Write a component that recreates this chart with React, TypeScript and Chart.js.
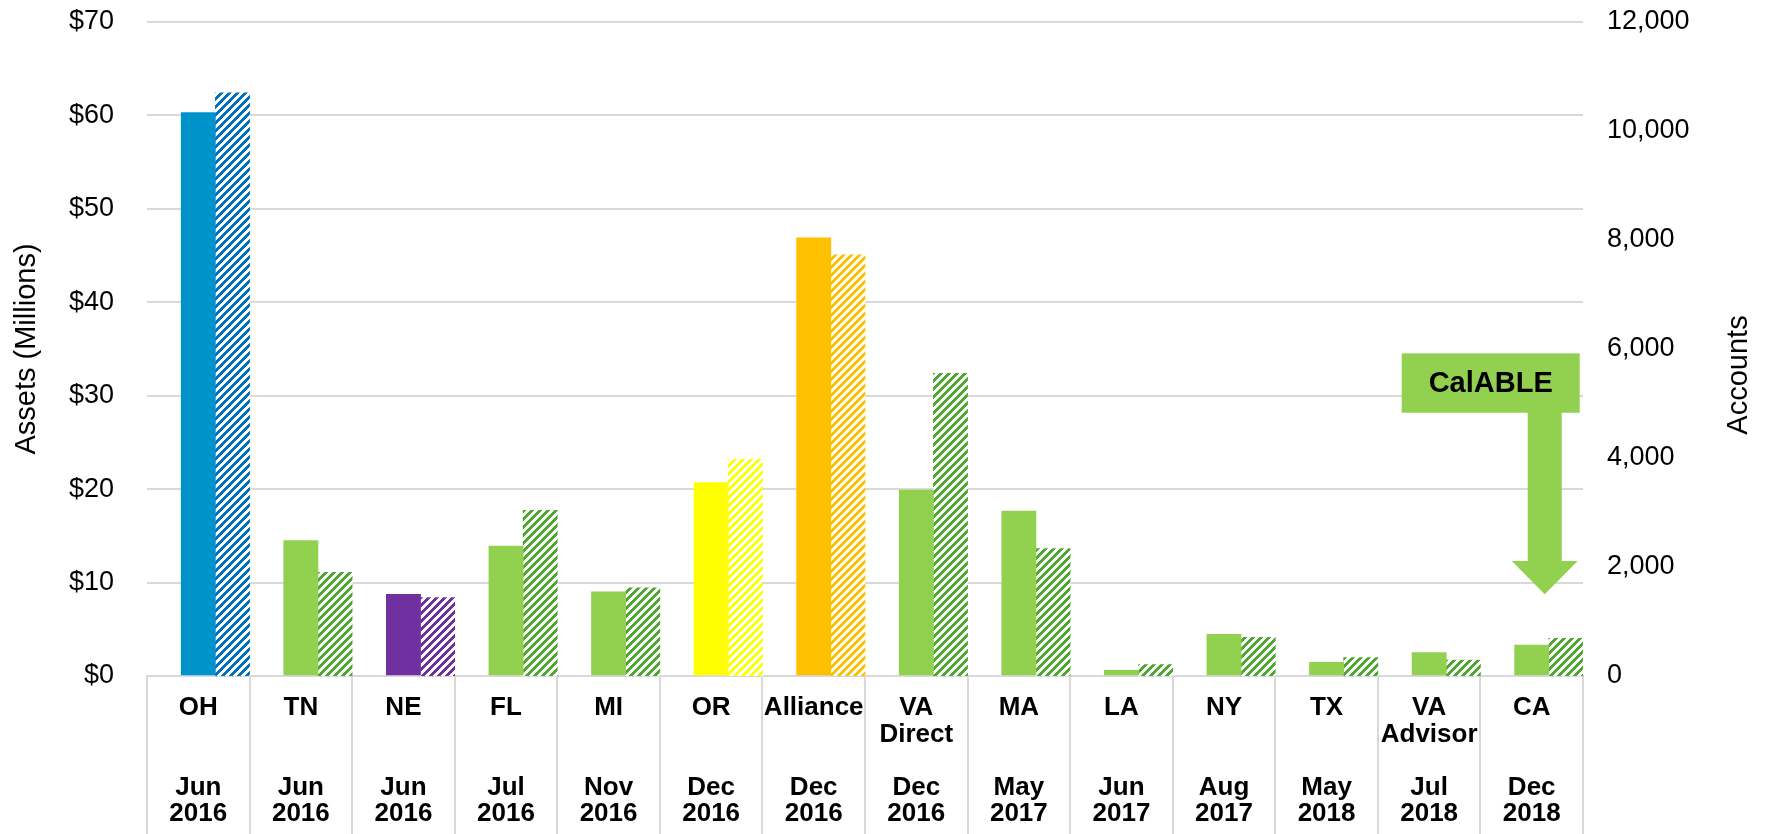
import React, { useEffect, useRef } from 'react';
import { Chart, registerables } from 'chart.js';

Chart.register(...registerables);

// ---- data ----
const states: string[][] = [
  ['OH'], ['TN'], ['NE'], ['FL'], ['MI'], ['OR'], ['Alliance'], ['VA', 'Direct'],
  ['MA'], ['LA'], ['NY'], ['TX'], ['VA', 'Advisor'], ['CA'],
];
const launchMonths = ['Jun', 'Jun', 'Jun', 'Jul', 'Nov', 'Dec', 'Dec', 'Dec', 'May', 'Jun', 'Aug', 'May', 'Jul', 'Dec'];
const launchYears = ['2016', '2016', '2016', '2016', '2016', '2016', '2016', '2016', '2017', '2017', '2017', '2018', '2018', '2018'];
const assetsMillions = [60.3, 14.5, 8.75, 13.9, 9.0, 20.7, 46.9, 19.9, 17.65, 0.6, 4.45, 1.45, 2.5, 3.3];
const accountCounts = [10700, 1900, 1440, 3040, 1620, 3975, 7730, 5555, 2340, 210, 710, 340, 290, 690];

const assetAxisMax = 70;
const assetAxisStep = 10;
const accountAxisMax = 12000;
const accountAxisStep = 2000;

const leftTitle = 'Assets (Millions)';
const rightTitle = 'Accounts';
const calloutText = 'CalABLE';
const calloutIndex = 13;
// callout geometry expressed in account-axis values
const calloutBoxTop = 5920;
const calloutBoxBottom = 4830;
const calloutHeadTop = 2110;
const calloutTip = 1500;

// ---- styles ----
const FONT = '"Liberation Sans", Arial, Helvetica, sans-serif';
const solidColors = ['#0093C9', '#92D050', '#7030A0', '#92D050', '#92D050', '#FFFF00', '#FFC000', '#92D050', '#92D050', '#92D050', '#92D050', '#92D050', '#92D050', '#92D050'];
const hatchColors = ['#0070C0', '#4EA72E', '#7030A0', '#4EA72E', '#4EA72E', '#FFFF00', '#FFC000', '#4EA72E', '#4EA72E', '#4EA72E', '#4EA72E', '#4EA72E', '#4EA72E', '#4EA72E'];

function makeHatch(color: string): CanvasPattern | string {
  const c = document.createElement('canvas');
  c.width = 8;
  c.height = 8;
  const g = c.getContext('2d');
  if (!g) return color;
  g.fillStyle = '#ffffff';
  g.fillRect(0, 0, 8, 8);
  g.fillStyle = color;
  for (let y = 0; y < 8; y++) {
    for (let x = 0; x < 8; x++) {
      if ((x + y) % 8 < 4) g.fillRect(x, y, 1, 1);
    }
  }
  return g.createPattern(c, 'repeat') || color;
}

const overlayPlugin = {
  id: 'overlay',
  afterDraw(chart: any) {
    const { ctx, scales } = chart;
    const xs = scales.x;
    const y1 = scales.y1;
    ctx.save();
    // right axis title, reading bottom to top
    ctx.font = `29px ${FONT}`;
    ctx.fillStyle = '#000';
    ctx.textAlign = 'center';
    ctx.textBaseline = 'middle';
    ctx.translate(chart.width - 34, 375);
    ctx.rotate(-Math.PI / 2);
    ctx.fillText(rightTitle, 0, 0);
    ctx.restore();

    // callout arrow
    const cx = xs.getPixelForTick(calloutIndex) + 13;
    const top = y1.getPixelForValue(calloutBoxTop);
    const bottom = y1.getPixelForValue(calloutBoxBottom);
    const headTop = y1.getPixelForValue(calloutHeadTop);
    const tip = y1.getPixelForValue(calloutTip);
    const boxLeft = cx - 143;
    const boxRight = cx + 35;
    ctx.save();
    ctx.fillStyle = '#92D050';
    ctx.fillRect(boxLeft, top, boxRight - boxLeft, bottom - top);
    ctx.beginPath();
    ctx.moveTo(cx - 17, bottom - 1);
    ctx.lineTo(cx + 17, bottom - 1);
    ctx.lineTo(cx + 17, headTop);
    ctx.lineTo(cx + 33, headTop);
    ctx.lineTo(cx, tip);
    ctx.lineTo(cx - 33, headTop);
    ctx.lineTo(cx - 17, headTop);
    ctx.closePath();
    ctx.fill();
    ctx.fillStyle = '#000';
    ctx.font = `bold 29px ${FONT}`;
    ctx.textAlign = 'center';
    ctx.textBaseline = 'middle';
    ctx.fillText(calloutText, (boxLeft + boxRight) / 2, (top + bottom) / 2 + 1);
    ctx.restore();
  },
};

export default function App() {
  const ref = useRef<HTMLCanvasElement>(null);

  useEffect(() => {
    document.body.style.margin = '0';
    if (!ref.current) return;
    const labels = states.map((s, i) => {
      const lines = [...s];
      while (lines.length < 3) lines.push('');
      return [...lines, launchMonths[i], launchYears[i]];
    });
    const chart = new Chart(ref.current, {
      type: 'bar',
      data: {
        labels,
        datasets: [
          {
            label: '',
            data: states.map(() => null),
            yAxisID: 'y',
          },
          {
            label: 'Assets (Millions)',
            data: assetsMillions,
            backgroundColor: solidColors,
            yAxisID: 'y',
          },
          {
            label: 'Accounts',
            data: accountCounts,
            backgroundColor: hatchColors.map(makeHatch) as any,
            yAxisID: 'y1',
          },
        ],
      },
      options: {
        animation: false,
        responsive: false,
        devicePixelRatio: 1,
        layout: { padding: { top: 22, left: 0, right: 0, bottom: 0 } },
        datasets: { bar: { barPercentage: 1, categoryPercentage: 1 } },
        plugins: { legend: { display: false }, tooltip: { enabled: false } },
        scales: {
          x: {
            offset: true,
            grid: {
              display: true,
              drawOnChartArea: false,
              drawTicks: true,
              tickLength: 160,
              color: '#d9d9d9',
              lineWidth: 2,
              offset: true,
            },
            border: { display: true, color: '#d9d9d9', width: 2 },
            ticks: {
              autoSkip: false,
              maxRotation: 0,
              minRotation: 0,
              padding: -141,
              color: '#000',
              font: { family: FONT, size: 26, weight: 'bold', lineHeight: '26.5px' },
            },
            afterFit: (s: any) => { s.height = 158; s.paddingLeft = 0; s.paddingRight = 0; },
          },
          y: {
            position: 'left',
            min: 0,
            max: assetAxisMax,
            ticks: {
              stepSize: assetAxisStep,
              padding: 33,
              color: '#000',
              font: { family: FONT, size: 27 },
              callback: (v: any) => '$' + v,
            },
            grid: { color: '#d9d9d9', lineWidth: 2, drawTicks: false },
            border: { display: false },
            title: {
              display: true,
              text: leftTitle,
              color: '#000',
              font: { family: FONT, size: 29, lineHeight: 1 },
              padding: { top: 12, bottom: 0 },
            },
            afterFit: (s: any) => { s.width = 147; s.paddingTop = 0; s.paddingBottom = 0; },
          },
          y1: {
            position: 'right',
            min: 0,
            max: accountAxisMax,
            ticks: {
              stepSize: accountAxisStep,
              padding: 24,
              color: '#000',
              font: { family: FONT, size: 27 },
              callback: (v: any) => Number(v).toLocaleString('en-US'),
            },
            grid: { display: false, drawTicks: false, drawOnChartArea: false },
            border: { display: false },
            afterFit: (s: any) => { s.width = 190; s.paddingTop = 0; s.paddingBottom = 0; },
          },
        },
      },
      plugins: [overlayPlugin],
    });
    return () => chart.destroy();
  }, []);

  return (
    <div style={{ width: 1773, height: 834 }}>
      <canvas ref={ref} width={1773} height={834} style={{ display: 'block' }} />
    </div>
  );
}
